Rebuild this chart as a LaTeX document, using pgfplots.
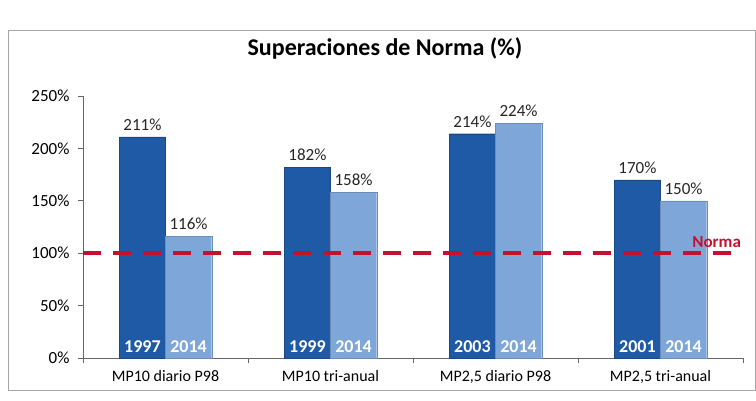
\documentclass[border=0pt]{standalone}
\usepackage{pgfplots}
\pgfplotsset{compat=1.18}
\usepackage{fontspec}
\setmainfont{Carlito}
\definecolor{dkblue}{HTML}{1F5AA6}
\definecolor{ltblue}{HTML}{7FA6D8}
\definecolor{normred}{HTML}{C3122F}
\begin{document}
\begin{tikzpicture}[x=1pt,y=1pt]
\useasboundingbox (0,0) rectangle (756,400);
\draw[gray!70, line width=0.8pt] (8,10) rectangle (755,370);
\node[font=\fontsize{24}{28}\selectfont\bfseries] at (385,352) {Superaciones de Norma (\%)};
\begin{axis}[
  at={(83pt,42pt)}, anchor=south west,
  scale only axis, width=660pt, height=262pt,
  xmin=-0.5, xmax=3.5, ymin=0, ymax=250,
  axis lines=left, axis line style={-, gray!80!black, line width=0.8pt},
  /pgf/number format/assume math mode=true,
  ytick={0,50,...,250},
  yticklabel={\pgfmathprintnumber{\tick}\%},
  yticklabel style={font=\fontsize{17}{20}\selectfont, xshift=-5pt},
  xtick={0,1,2,3},
  xticklabels={MP10 diario P98, MP10 tri-anual, {MP2,5 diario P98}, {MP2,5 tri-anual}},
  xticklabel style={font=\fontsize{16}{19}\selectfont, yshift=-4pt},
  minor xtick={-0.5,0.5,1.5,2.5,3.5},
  major x tick style={draw=none},
  tick align=outside, major tick length=5pt, minor tick length=5pt,
  tick style={gray!80!black, line width=0.8pt},
  clip=false,
  bar width=0.28,
  nodes near coords style={font=\fontsize{17}{20}\selectfont, text=black!85},
]
% dark bars (first year) placed at the left half of each group
\addplot[ybar, bar shift=0pt, fill=dkblue, draw=dkblue!80!black,
  nodes near coords={\pgfmathprintnumber{\pgfplotspointmeta}\%}, nodes near coords style={yshift=3pt}]
  coordinates {(-0.14,211) (0.86,182) (1.86,214) (2.86,170)};
% light bars (2014)
\addplot[ybar, bar shift=0pt, fill=ltblue, draw=ltblue!85!black,
  nodes near coords={\pgfmathprintnumber{\pgfplotspointmeta}\%}, nodes near coords style={yshift=3pt}]
  coordinates {(0.14,116) (1.14,158) (2.14,224) (3.14,150)};
% year labels inside the bars
\addplot[draw=none, mark=none, point meta=explicit symbolic,
  nodes near coords, nodes near coords style={font=\fontsize{18}{21}\selectfont\bfseries, text=white, anchor=south, yshift=2pt}]
  coordinates {(-0.14,0)[1997] (0.86,0)[1999] (1.86,0)[2003] (2.86,0)[2001]};
\addplot[draw=none, mark=none, point meta=explicit symbolic,
  nodes near coords, nodes near coords style={font=\fontsize{18}{21}\selectfont\bfseries, text=white, anchor=south, yshift=2pt}]
  coordinates {(0.14,0)[2014] (1.14,0)[2014] (2.14,0)[2014] (3.14,0)[2014]};
\addplot[normred, line width=3.5pt, dash pattern=on 18pt off 12pt, sharp plot]
  coordinates {(-0.5,100) (3.5,100)};
\node[font=\fontsize{17}{20}\selectfont\bfseries, text=normred, anchor=south] at (axis cs:3.34,102) {Norma};
\end{axis}
\end{tikzpicture}
\end{document}
